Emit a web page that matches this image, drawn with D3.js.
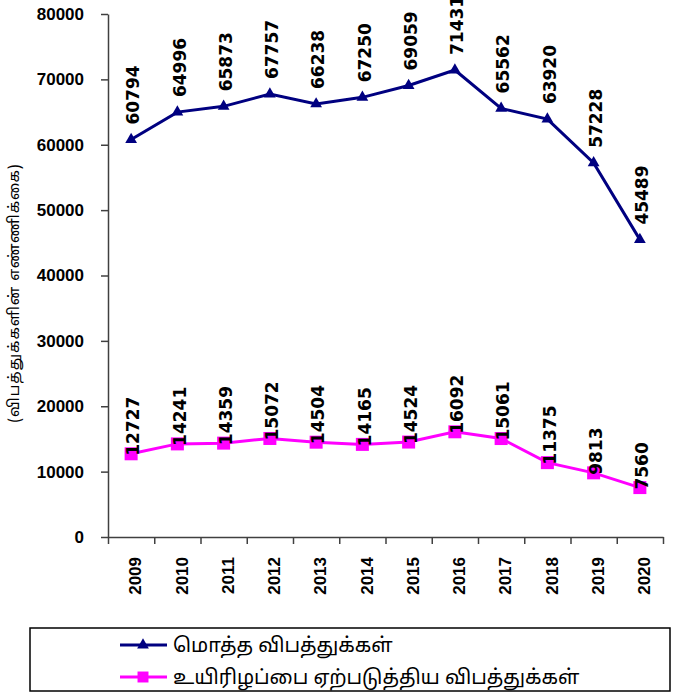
<!DOCTYPE html>
<html>
<head>
<meta charset="utf-8">
<style>
    body { margin: 0; background: #fff; }
    svg { display: block; font-family: 'DejaVu Sans', Verdana, sans-serif; }
    .axis .domain { stroke: #404040; stroke-width: 1.5; }
    .axis .tick line { stroke: #404040; stroke-width: 1.5; }
    .y .tick text, .yr .tick text { font-size: 17px; font-weight: bold; fill: #000; }
    .lbl { font-size: 17px; font-weight: bold; fill: #000; }
    .tamil { font-family: 'Noto Sans Tamil', Latha, 'DejaVu Sans', sans-serif; }
</style>
</head>
<body>
<svg width="674" height="695"></svg>

<script src="https://d3js.org/d3.v7.min.js"></script>
<script>
    // data
    let years = ["2009", "2010", "2011", "2012", "2013", "2014", "2015", "2016", "2017", "2018", "2019", "2020"];
    let totalAccidents = [60794, 64996, 65873, 67757, 66238, 67250, 69059, 71431, 65562, 63920, 57228, 45489];
    let fatalAccidents = [12727, 14241, 14359, 15072, 14504, 14165, 14524, 16092, 15061, 11375, 9813, 7560];
    let yTicks = [0, 10000, 20000, 30000, 40000, 50000, 60000, 70000, 80000];
    let seriesNames = ["மொத்த விபத்துக்கள்", "உயிரிழப்பை ஏற்படுத்திய விபத்துக்கள்"];
    let yTitle = "(விபத்துக்களின் எண்ணிக்கை)";

    let svg = d3.select("svg");
    let plotLeft = 108, plotRight = 663, plotTop = 14, plotBottom = 537;

    let x = d3.scaleBand().domain(years).range([plotLeft, plotRight]);
    let xEdges = d3.scaleLinear().domain([0, years.length]).range([plotLeft, plotRight]);
    let y = d3.scaleLinear().domain([0, 80000]).range([plotBottom, plotTop]);

    // y axis
    svg.append("g")
        .attr("class", "axis y")
        .attr("transform", `translate(${plotLeft},0)`)
        .call(d3.axisLeft(y).tickValues(yTicks).tickSize(7).tickSizeOuter(0).tickPadding(17).tickFormat(d3.format("d")));

    // x axis: tick marks between categories
    svg.append("g")
        .attr("class", "axis x")
        .attr("transform", `translate(0,${plotBottom})`)
        .call(d3.axisBottom(xEdges).tickValues(d3.range(years.length + 1)).tickSize(7).tickSizeOuter(0).tickFormat(""));

    // year labels, rotated
    let yr = svg.append("g")
        .attr("class", "yr")
        .attr("transform", `translate(4,${plotBottom})`)
        .call(d3.axisBottom(x).tickSize(0).tickSizeOuter(0));
    yr.select(".domain").remove();
    yr.selectAll(".tick text")
        .attr("transform", "rotate(-90)")
        .attr("x", -20)
        .attr("y", 0)
        .attr("dy", "0.36em")
        .style("text-anchor", "end");

    // y title
    svg.append("text")
        .attr("class", "tamil")
        .attr("transform", `translate(14,293) rotate(-90)`)
        .attr("text-anchor", "middle")
        .attr("dy", "0.35em")
        .style("font-size", "15px")
        .style("letter-spacing", "1px")
        .text(yTitle);

    let cx = function (d, i) { return x(years[i]) + x.bandwidth() / 2; };
    let line = d3.line().x(function (d, i) { return cx(d, i); }).y(function (d) { return y(d); });

    // total accidents (navy, triangles)
    svg.append("path")
        .datum(totalAccidents)
        .attr("d", line)
        .attr("fill", "none")
        .attr("stroke", "#000080")
        .attr("stroke-width", 3);

    svg.selectAll(".tri")
        .data(totalAccidents)
        .enter().append("path")
        .attr("class", "tri")
        .attr("d", d3.symbol().type(d3.symbolTriangle).size(60))
        .attr("transform", function (d, i) { return `translate(${cx(d, i)},${y(d)})`; })
        .attr("fill", "#000080");

    svg.selectAll(".lblT")
        .data(totalAccidents)
        .enter().append("text")
        .attr("class", "lbl lblT")
        .attr("transform", function (d, i) { return `translate(${cx(d, i) + 2},${y(d) - 15}) rotate(-90)`; })
        .attr("dy", "0.36em")
        .text(function (d) { return d; });

    // fatal accidents (magenta, squares)
    svg.append("path")
        .datum(fatalAccidents)
        .attr("d", line)
        .attr("fill", "none")
        .attr("stroke", "#FF00FF")
        .attr("stroke-width", 3);

    svg.selectAll(".sq")
        .data(fatalAccidents)
        .enter().append("rect")
        .attr("class", "sq")
        .attr("x", function (d, i) { return cx(d, i) - 6.5; })
        .attr("y", function (d) { return y(d) - 6.5; })
        .attr("width", 13)
        .attr("height", 13)
        .attr("fill", "#FF00FF");

    svg.selectAll(".lblF")
        .data(fatalAccidents)
        .enter().append("text")
        .attr("class", "lbl lblF")
        .attr("transform", function (d, i) { return `translate(${cx(d, i) + 2},${y(d) + 2}) rotate(-90)`; })
        .attr("dy", "0.36em")
        .text(function (d) { return d; });

    // legend
    let legend = svg.append("g");
    legend.append("rect")
        .attr("x", 30).attr("y", 628)
        .attr("width", 640).attr("height", 63)
        .attr("fill", "#fff")
        .attr("stroke", "#000")
        .attr("stroke-width", 1.5);

    let colors = ["#000080", "#FF00FF"];
    let rows = legend.selectAll(".row")
        .data(seriesNames)
        .enter().append("g")
        .attr("class", "row")
        .attr("transform", function (d, i) { return `translate(120,${645 + i * 32})`; });

    rows.append("line")
        .attr("x1", 0).attr("x2", 47)
        .attr("stroke", function (d, i) { return colors[i]; })
        .attr("stroke-width", 3);

    rows.append("path")
        .attr("d", function (d, i) {
            return i === 0 ? d3.symbol().type(d3.symbolTriangle).size(60)() : d3.symbol().type(d3.symbolSquare).size(120)();
        })
        .attr("transform", "translate(23,0)")
        .attr("fill", function (d, i) { return colors[i]; });

    rows.append("text")
        .attr("class", "tamil")
        .attr("x", 53)
        .attr("dy", "0.35em")
        .style("font-size", "20px")
        .text(function (d) { return d; });
</script>
</body>
</html>
